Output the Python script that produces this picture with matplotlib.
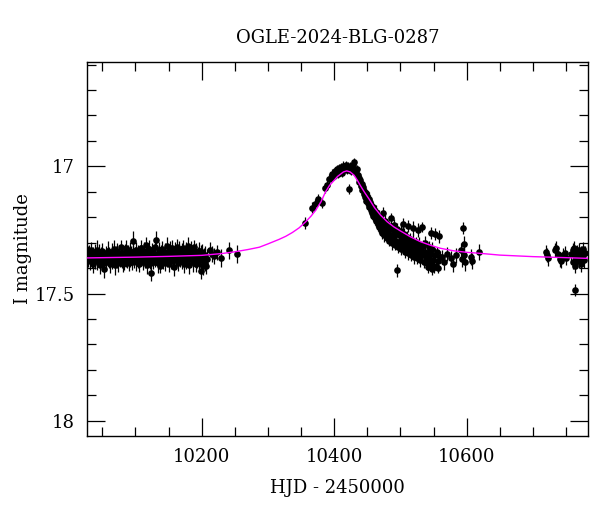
import matplotlib
matplotlib.use("Agg")
import matplotlib.pyplot as plt
from matplotlib.ticker import MultipleLocator, FixedLocator

# ---------------- data ----------------
title = "OGLE-2024-BLG-0287"
xlabel = "HJD - 2450000"
ylabel = "I magnitude"

# baseline season
t_base = [10028.3, 10029.2, 10030.4, 10031.1, 10032.3, 10033.4, 10034.2, 10035.5, 10036.3, 10037.6,
          10038.4, 10039.7, 10040.5, 10041.8, 10042.6, 10043.9, 10044.7, 10046.0, 10047.1, 10048.3,
          10049.2, 10050.4, 10051.5, 10053.4, 10054.3, 10055.6, 10056.4, 10057.7, 10058.5, 10059.8,
          10060.6, 10061.9, 10062.7, 10064.0, 10065.1, 10066.3, 10067.2, 10068.4, 10069.5, 10070.3,
          10071.6, 10072.4, 10073.7, 10074.5, 10075.8, 10076.6, 10077.9, 10079.0, 10080.2, 10081.1,
          10082.3, 10083.4, 10084.2, 10085.5, 10086.3, 10087.6, 10088.4, 10089.7, 10090.5, 10091.8,
          10092.6, 10093.9, 10095.0, 10096.2, 10097.1, 10098.3, 10099.4, 10100.2, 10101.5, 10102.3,
          10103.6, 10104.4, 10105.7, 10106.5, 10107.8, 10108.6, 10109.9, 10111.0, 10112.2, 10113.1,
          10114.3, 10115.4, 10116.2, 10117.5, 10118.3, 10119.6, 10120.4, 10121.7, 10122.5, 10124.0,
          10124.8, 10125.6, 10126.9, 10127.7, 10129.0, 10130.1, 10131.3, 10132.2, 10133.4, 10134.3,
          10135.5, 10136.6, 10137.4, 10138.7, 10139.5, 10140.8, 10141.6, 10142.9, 10144.0, 10145.2,
          10146.1, 10147.3, 10148.4, 10149.2, 10150.5, 10151.3, 10152.6, 10153.7, 10154.5, 10155.8,
          10156.6, 10157.9, 10159.0, 10160.2, 10161.1, 10162.3, 10163.4, 10164.2, 10165.5, 10166.3,
          10167.6, 10168.4, 10169.7, 10170.5, 10171.8, 10172.6, 10173.9, 10175.0, 10176.2, 10177.1,
          10178.3, 10179.4, 10180.2, 10181.5, 10182.3, 10183.6, 10184.4, 10185.7, 10186.5, 10187.8,
          10188.6, 10189.9, 10191.0, 10192.2, 10193.1, 10194.3, 10195.4, 10196.2, 10197.5, 10198.3,
          10199.0, 10200.4, 10201.2, 10202.5, 10203.3, 10204.6, 10205.4, 10206.7, 10207.5]
m_base = [17.345, 17.362, 17.338, 17.371, 17.352, 17.329, 17.366, 17.348, 17.382, 17.357,
          17.336, 17.369, 17.351, 17.327, 17.374, 17.355, 17.340, 17.363, 17.386, 17.349,
          17.333, 17.371, 17.356, 17.402, 17.361, 17.344, 17.378, 17.352, 17.331, 17.367,
          17.349, 17.384, 17.358, 17.337, 17.370, 17.353, 17.325, 17.362, 17.389, 17.346,
          17.368, 17.334, 17.357, 17.379, 17.342, 17.365, 17.350, 17.318, 17.361, 17.384,
          17.347, 17.372, 17.335, 17.359, 17.322, 17.368, 17.345, 17.381, 17.356, 17.331,
          17.364, 17.349, 17.376, 17.292, 17.341, 17.367, 17.353, 17.328, 17.373, 17.358,
          17.339, 17.366, 17.385, 17.347, 17.321, 17.361, 17.343, 17.377, 17.354, 17.332,
          17.369, 17.311, 17.357, 17.388, 17.340, 17.364, 17.326, 17.372, 17.349, 17.418,
          17.359, 17.334, 17.375, 17.352, 17.316, 17.363, 17.290, 17.345, 17.381, 17.356,
          17.329, 17.368, 17.391, 17.347, 17.362, 17.324, 17.370, 17.351, 17.337, 17.379,
          17.358, 17.313, 17.366, 17.343, 17.385, 17.361, 17.330, 17.373, 17.348, 17.322,
          17.364, 17.396, 17.352, 17.335, 17.369, 17.317, 17.357, 17.381, 17.344, 17.326,
          17.365, 17.349, 17.374, 17.338, 17.359, 17.320, 17.383, 17.353, 17.336, 17.370,
          17.347, 17.312, 17.362, 17.389, 17.341, 17.366, 17.328, 17.355, 17.378, 17.343,
          17.319, 17.361, 17.384, 17.337, 17.369, 17.350, 17.331, 17.372, 17.357, 17.344,
          17.410, 17.366, 17.335, 17.391, 17.354, 17.379, 17.348, 17.392, 17.363]
e_base = [0.031, 0.034, 0.030, 0.036, 0.032, 0.031, 0.035, 0.030, 0.037, 0.033]

# sparse points after the baseline season
t_gap = [10212.5, 10215.8, 10219.0, 10223.6, 10229.0, 10241.5, 10252.7]
m_gap = [17.328, 17.345, 17.352, 17.338, 17.360, 17.330, 17.344]
e_gap = [0.030, 0.031, 0.032, 0.030, 0.034, 0.034, 0.035]

# rising branch and peak
t_peak = [10355.5, 10366.0, 10370.5, 10376.0, 10382.0, 10386.0, 10389.0, 10392.0,
          10395.0, 10397.0, 10399.0, 10401.0, 10402.5, 10404.0, 10405.5, 10407.0, 10408.5,
          10410.0, 10411.5, 10413.0, 10414.5, 10416.0, 10417.5, 10419.0, 10420.5, 10421.6,
          10422.5, 10424.0, 10425.5, 10427.0, 10428.5, 10430.0, 10431.5, 10433.0, 10434.5, 10436.0]
m_peak = [17.222, 17.163, 17.150, 17.128, 17.145, 17.086, 17.075, 17.050,
          17.045, 17.030, 17.038, 17.018, 17.028, 17.012, 17.030, 17.008, 17.020,
          17.003, 17.025, 16.998, 17.012, 17.004, 16.996, 17.014, 17.001, 17.090,
          17.008, 16.999, 17.018, 17.006, 16.993, 16.985, 17.015, 17.026, 17.012, 17.035]
e_peak = [0.024, 0.022, 0.021, 0.020, 0.020, 0.019, 0.019, 0.018,
          0.018, 0.018, 0.017, 0.017, 0.017, 0.017, 0.017, 0.017, 0.017,
          0.017, 0.017, 0.017, 0.017, 0.017, 0.017, 0.017, 0.017, 0.019,
          0.017, 0.017, 0.017, 0.017, 0.017, 0.017, 0.017, 0.018, 0.018, 0.018]

# declining branch
t_fall = [10437.0, 10438.0, 10439.2, 10440.1, 10441.3, 10442.2, 10443.4, 10444.3, 10445.5, 10446.4,
          10447.6, 10448.5, 10449.7, 10450.6, 10451.8, 10452.7, 10453.9, 10454.8, 10456.0, 10457.1,
          10458.3, 10459.2, 10460.4, 10461.3, 10462.5, 10463.6, 10464.8, 10465.7, 10466.9, 10468.0,
          10469.2, 10470.1, 10471.3, 10472.4, 10473.6, 10474.5, 10475.7, 10476.6, 10477.8, 10479.0,
          10480.1, 10481.3, 10482.2, 10483.4, 10484.5, 10485.7, 10486.6, 10487.8, 10489.0, 10490.1,
          10491.3, 10492.4, 10493.6, 10494.8, 10495.5, 10496.9, 10498.0, 10499.2, 10500.4, 10501.5,
          10502.7, 10503.9, 10504.5, 10505.0, 10506.2, 10507.4, 10508.5, 10509.7, 10510.9, 10511.5,
          10512.0, 10513.2, 10514.4, 10515.5, 10516.7, 10517.9, 10518.5, 10519.0, 10520.2, 10521.4,
          10522.5, 10523.7, 10525.0, 10526.2, 10526.8, 10527.5, 10528.7, 10530.0, 10531.2, 10532.5,
          10533.0, 10533.7, 10535.0, 10536.3, 10537.5, 10538.8, 10540.0, 10541.0, 10541.3, 10542.6,
          10543.8, 10545.1, 10545.5, 10546.4, 10547.7, 10548.0, 10549.0, 10550.5, 10552.0, 10552.5,
          10553.5, 10555.0, 10556.0, 10557.0, 10558.0, 10559.0]
m_fall = [17.045, 17.060, 17.052, 17.078, 17.070, 17.095, 17.083, 17.108, 17.098, 17.120,
          17.105, 17.135, 17.118, 17.145, 17.128, 17.160, 17.140, 17.170, 17.152, 17.185,
          17.160, 17.195, 17.172, 17.205, 17.180, 17.215, 17.190, 17.228, 17.198, 17.240,
          17.205, 17.250, 17.212, 17.262, 17.185, 17.230, 17.270, 17.215, 17.248, 17.280,
          17.225, 17.258, 17.292, 17.238, 17.270, 17.205, 17.300, 17.248, 17.282, 17.232,
          17.310, 17.262, 17.292, 17.245, 17.408, 17.318, 17.270, 17.300, 17.255, 17.325,
          17.285, 17.310, 17.228, 17.268, 17.335, 17.295, 17.318, 17.278, 17.340, 17.235,
          17.300, 17.325, 17.285, 17.350, 17.308, 17.332, 17.242, 17.292, 17.355, 17.315,
          17.338, 17.298, 17.362, 17.322, 17.250, 17.345, 17.305, 17.370, 17.330, 17.350,
          17.238, 17.312, 17.375, 17.338, 17.300, 17.358, 17.380, 17.395, 17.342, 17.318,
          17.362, 17.385, 17.262, 17.345, 17.325, 17.405, 17.368, 17.395, 17.350, 17.265,
          17.390, 17.338, 17.398, 17.372, 17.275, 17.355]
e_fall = [0.019, 0.021, 0.023, 0.024, 0.026, 0.022, 0.027, 0.025, 0.028, 0.023]

# sparse points at the end of the season
t_tail = [10563.0, 10566.0, 10570.0, 10576.0, 10580.0, 10584.0, 10592.0, 10593.5, 10595.0,
          10595.8, 10596.5, 10597.2, 10606.0, 10608.0, 10618.5]
m_tail = [17.355, 17.378, 17.345, 17.362, 17.385, 17.350, 17.330, 17.365, 17.242,
          17.305, 17.350, 17.378, 17.356, 17.372, 17.336]
e_tail = [0.028, 0.030, 0.029, 0.031, 0.032, 0.030, 0.029, 0.031, 0.025,
          0.030, 0.031, 0.033, 0.030, 0.032, 0.032]

# next season
t_late = [10719.5, 10721.0, 10723.0, 10733.0, 10735.0, 10737.0, 10740.0, 10742.0, 10745.0,
          10748.0, 10750.0, 10758.0, 10760.0, 10761.0, 10762.0, 10763.0, 10764.0, 10765.0,
          10766.0, 10767.0, 10768.0, 10769.0, 10770.0, 10771.0, 10772.0, 10773.0, 10774.0,
          10775.0, 10776.0, 10777.0, 10778.0]
m_late = [17.335, 17.350, 17.362, 17.330, 17.322, 17.345, 17.365, 17.372, 17.350,
          17.340, 17.360, 17.345, 17.330, 17.375, 17.320, 17.390, 17.486, 17.355,
          17.338, 17.365, 17.345, 17.372, 17.330, 17.358, 17.385, 17.340, 17.362,
          17.325, 17.350, 17.368, 17.342]
e_late = [0.027, 0.028, 0.030, 0.027, 0.029, 0.028, 0.030, 0.029, 0.028,
          0.027, 0.029, 0.028, 0.027, 0.030, 0.028, 0.031, 0.024, 0.029,
          0.028, 0.030, 0.027, 0.029, 0.028, 0.030, 0.031, 0.028, 0.029,
          0.027, 0.028, 0.030, 0.029]

# model curve
t_model = [10027, 10100, 10150, 10200, 10230, 10250, 10270, 10287, 10300, 10317, 10327, 10337,
           10347, 10357, 10365, 10372, 10380, 10387, 10393, 10400, 10405, 10410, 10414, 10419,
           10424, 10430, 10435, 10440, 10446, 10453, 10461, 10470, 10480, 10490, 10500, 10515,
           10530, 10545, 10560, 10580, 10600, 10620, 10650, 10700, 10785]
m_model = [17.360, 17.357, 17.354, 17.350, 17.343, 17.336, 17.327, 17.318, 17.305, 17.287, 17.275,
           17.260, 17.242, 17.218, 17.196, 17.173, 17.140, 17.100, 17.075, 17.055, 17.040, 17.030,
           17.022, 17.018, 17.022, 17.035, 17.055, 17.078, 17.103, 17.130, 17.163, 17.192, 17.218,
           17.238, 17.254, 17.277, 17.296, 17.310, 17.322, 17.332, 17.338, 17.342, 17.349, 17.355,
           17.362]

# ---------------- figure ----------------
plt.rcParams['font.family'] = ['DejaVu Serif']
fig = plt.figure(figsize=(6.0, 5.12), dpi=100)
ax = fig.add_axes([87/600, 1 - 436/512, (588-87)/600, (436-62)/512])


def expand(err, n):
    return [err[i % len(err)] for i in range(n)]


segments = [(t_base, m_base, expand(e_base, len(t_base))),
            (t_gap, m_gap, e_gap),
            (t_peak, m_peak, e_peak),
            (t_fall, m_fall, expand(e_fall, len(t_fall))),
            (t_tail, m_tail, e_tail),
            (t_late, m_late, e_late)]
for t, m, e in segments:
    ax.errorbar(t, m, yerr=e, fmt='o', color='black', ms=4.8, mew=0,
                ecolor='black', elinewidth=0.9, capsize=3.0, capthick=1.0, zorder=2)

ax.plot(t_model, m_model, color='#ff00ff', lw=1.0, zorder=3)

ax.set_xlim(10027, 10783)
ax.set_ylim(18.06, 16.59)

ax.xaxis.set_major_locator(MultipleLocator(200))
ax.xaxis.set_minor_locator(MultipleLocator(50))
ax.yaxis.set_major_locator(FixedLocator([17.0, 17.5, 18.0]))
ax.yaxis.set_minor_locator(MultipleLocator(0.1))
ax.set_yticklabels(['17', '17.5', '18'])

ax.tick_params(which='both', direction='in', top=True, right=True, width=0.9)
ax.tick_params(which='major', length=13, labelsize=13, pad=9)
ax.tick_params(which='minor', length=6.5)
for s in ax.spines.values():
    s.set_linewidth(1.0)

ax.set_title(title, fontsize=13, pad=14)
ax.set_xlabel(xlabel, fontsize=13, labelpad=9)
ax.set_ylabel(ylabel, fontsize=13, labelpad=2)

fig.savefig("out.png", dpi=100)
